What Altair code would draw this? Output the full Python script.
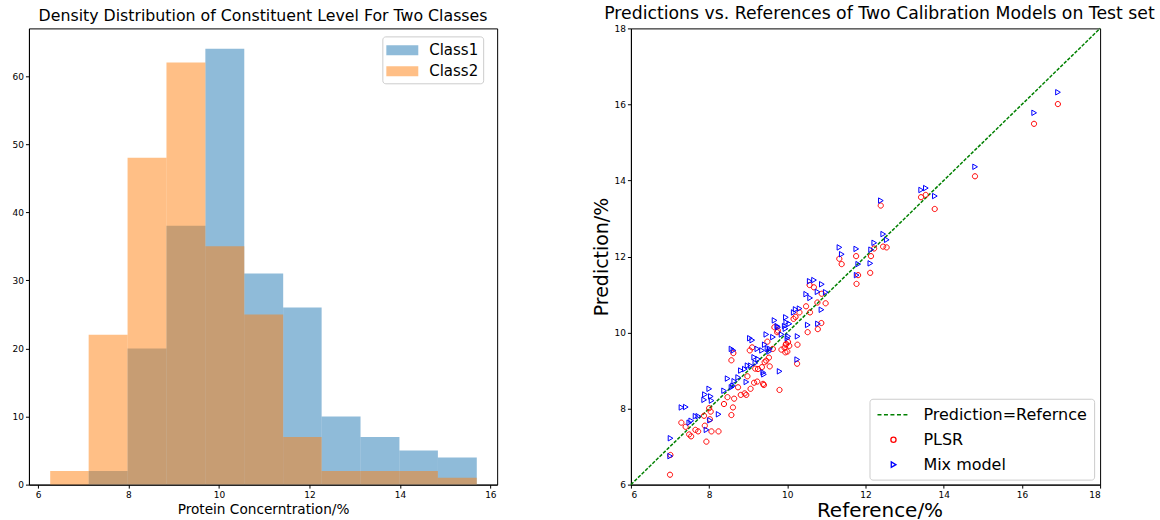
import altair as alt
import pandas as pd

# ---------------- left panel: histogram counts ----------------
bin_edges = [6.27, 7.12, 7.98, 8.84, 9.70, 10.56, 11.42, 12.27, 13.13, 13.99, 14.84, 15.70]
class1_counts = [0, 2, 20, 38, 64, 31, 26, 10, 7, 5, 4]
class2_counts = [2, 22, 48, 62, 35, 25, 7, 2, 2, 2, 1]

# ---------------- right panel: test-set predictions ----------------
reference = [7.00, 7.01, 7.29, 7.40, 7.49, 7.54, 7.65, 7.72, 7.87, 7.89, 7.93, 8.00, 8.04, 8.02,
             8.06, 8.24, 8.38, 8.47, 8.57, 8.61, 8.64, 8.74, 8.57, 8.62, 8.81, 8.91, 8.95, 8.98,
             9.04, 9.06, 9.10, 9.15, 9.18, 9.23, 9.25, 9.35, 9.38, 9.40, 9.42, 9.46, 9.49, 9.53,
             9.55, 9.63, 9.67, 9.74, 9.76, 9.80, 9.85, 9.93, 9.95, 9.96, 9.97, 10.00, 10.02, 10.05,
             10.16, 10.21, 10.31, 10.25, 10.26,
             16.92, 16.31, 14.80, 13.42, 13.54, 13.77, 12.39, 12.45, 12.54, 12.22, 11.33, 11.76,
             12.14, 11.39, 11.81, 12.12, 11.77, 10.57, 10.68, 10.88, 10.77, 10.78, 10.98, 10.48,
             10.58, 10.87, 10.52]
plsr_pred = [6.26, 6.78, 7.63, 7.52, 7.32, 7.27, 7.44, 7.40, 7.81, 7.55, 7.13, 8.01, 7.92, 7.72,
             7.40, 7.40, 8.12, 8.30, 7.83, 8.03, 8.26, 8.56, 9.27, 9.46, 8.36, 8.40, 8.36, 8.85,
             9.53, 8.52, 9.61, 8.68, 9.05, 8.71, 9.04, 9.09, 8.65, 8.62, 9.22, 9.26, 9.76, 9.34,
             9.11, 9.57, 10.14, 10.01, 10.05, 8.49, 9.55, 9.60, 9.48, 9.68, 9.70, 9.50, 9.75, 9.65,
             10.36, 10.41, 10.53, 9.18, 9.68,
             16.01, 15.49, 14.11, 13.56, 13.62, 13.25, 13.34, 12.26, 12.24, 12.21, 11.94, 12.01,
             12.01, 11.80, 11.51, 11.57, 11.28, 11.25, 11.19, 11.02, 10.79, 10.09, 10.77, 10.69,
             10.53, 10.25, 10.01]
mix_pred = [6.75, 7.22, 8.03, 8.04, 7.63, 7.68, 7.80, 7.80, 8.23, 8.37, 7.44, 8.52, 8.32, 7.69,
            8.21, 7.85, 8.47, 8.79, 8.56, 8.60, 8.72, 8.82, 9.57, 9.53, 9.00, 9.04, 8.70, 9.13,
            9.85, 9.13, 9.80, 9.35, 9.20, 9.57, 9.30, 9.53, 8.95, 8.90, 9.68, 9.95, 9.57, 9.50,
            9.57, 9.88, 10.32, 10.17, 10.14, 8.98, 9.95, 10.17, 10.10, 10.40, 10.27, 9.85, 9.90, 10.23,
            10.53, 10.61, 10.63, 9.29, 9.90,
            16.32, 15.78, 14.36, 13.75, 13.80, 13.59, 13.47, 12.59, 12.44, 12.36, 12.24, 12.20,
            12.18, 12.06, 11.80, 11.82, 11.51, 11.35, 11.38, 11.27, 11.07, 10.23, 11.06, 11.01,
            10.91, 10.60, 10.20]

series_names = ["Prediction=Refernce", "PLSR", "Mix model"]
series_colors = ["green", "red", "blue"]
identity_line = [6, 18]

FONT = "DejaVu Sans"

# ---------- histogram table ----------
hist_rows = []
for name, counts in (("Class1", class1_counts), ("Class2", class2_counts)):
    for i, c in enumerate(counts):
        if c > 0:
            hist_rows.append({"cls": name, "x0": bin_edges[i], "x1": bin_edges[i + 1],
                              "count": c, "base": 0})
hist_df = pd.DataFrame(hist_rows)

rect_path = "M-1.6,-0.5H1.6V0.5H-1.6Z"

left = alt.Chart(hist_df).mark_rect(opacity=0.5, strokeWidth=0).encode(
    x=alt.X("x0:Q", scale=alt.Scale(domain=[5.8, 16.15], nice=False, zero=False),
            axis=alt.Axis(values=[6, 8, 10, 12, 14, 16], title="Protein Concerntration/%",
                          titleFontSize=13.7, titlePadding=3)),
    x2="x1:Q",
    y=alt.Y("count:Q", scale=alt.Scale(domain=[0, 67], nice=False),
            axis=alt.Axis(values=[0, 10, 20, 30, 40, 50, 60], title=None)),
    y2="base:Q",
    color=alt.Color("cls:N", scale=alt.Scale(domain=["Class1", "Class2"],
                                             range=["#1f77b4", "#ff7f0e"]),
                    legend=alt.Legend(title=None, orient="none", legendX=354, legendY=8,
                                      symbolType=rect_path, symbolSize=400, symbolOffset=6,
                                      symbolStrokeWidth=0, symbolOpacity=0.5,
                                      labelFontSize=15, labelOffset=17, rowPadding=3,
                                      padding=4, strokeColor="#cccccc", cornerRadius=3,
                                      fillColor="white", labelLimit=300)),
).properties(width=469, height=457,
             title=alt.Title("Density Distribution of Constituent Level For Two Classes",
                             fontSize=15.8, offset=4, frame="group"))

# ---------- scatter tables ----------
pts_rows = []
for r, p in zip(reference, plsr_pred):
    pts_rows.append({"ref": r, "pred": p, "series": "PLSR"})
for r, m in zip(reference, mix_pred):
    pts_rows.append({"ref": r, "pred": m, "series": "Mix model"})
pts_df = pd.DataFrame(pts_rows)
line_df = pd.DataFrame({"ref": identity_line, "pred": identity_line,
                        "series": [series_names[0]] * 2})

dash_path = "M-2,0H-1.5M-1.19,0H-0.69M-0.38,0H0.12M0.44,0H0.94M1.25,0H1.75"
circle_path = "M-0.325,0A0.325,0.325 0 1,0 0.325,0A0.325,0.325 0 1,0 -0.325,0Z"
tri_path = "M-0.275,-0.34L0.31,0L-0.275,0.34Z"

xs = alt.Scale(domain=[6, 18], nice=False, zero=False)
ys = alt.Scale(domain=[6, 18], nice=False, zero=False)
ticks = [6, 8, 10, 12, 14, 16, 18]
color_scale = alt.Scale(domain=series_names, range=series_colors)
shape_scale = alt.Scale(domain=series_names, range=[dash_path, circle_path, tri_path])

right_legend = alt.Legend(title=None, orient="none", legendX=239, legendY=371,
                          symbolSize=256, symbolOffset=8, symbolStrokeWidth=1.3,
                          labelFontSize=16, labelOffset=21, rowPadding=8, padding=7,
                          strokeColor="#cccccc", cornerRadius=3, fillColor="white",
                          labelLimit=300)

line_layer = alt.Chart(line_df).mark_line(strokeDash=[3.5, 1.5], strokeWidth=1.5).encode(
    x=alt.X("ref:Q", scale=xs, axis=alt.Axis(values=ticks, title="Reference/%",
                                             titleFontSize=20, titlePadding=1, titleX=249)),
    y=alt.Y("pred:Q", scale=ys, axis=alt.Axis(values=ticks, title="Prediction/%",
                                              titleFontSize=19, titlePadding=3)),
    color=alt.Color("series:N", scale=color_scale, legend=right_legend),
)
pts_layer = alt.Chart(pts_df).mark_point(filled=False, size=256, strokeWidth=1,
                                         opacity=1).encode(
    x=alt.X("ref:Q", scale=xs),
    y=alt.Y("pred:Q", scale=ys),
    color=alt.Color("series:N", scale=color_scale, legend=right_legend),
    shape=alt.Shape("series:N", scale=shape_scale, legend=right_legend),
)
right = alt.layer(line_layer, pts_layer).properties(
    width=470, height=457,
    title=alt.Title("Predictions vs. References of Two Calibration Models on Test set",
                    fontSize=17.3, offset=2, dx=14, frame="group"))

chart = alt.hconcat(left, right, spacing=134, bounds="flush").resolve_scale(
    color="independent", shape="independent"
).resolve_legend(color="independent", shape="independent").properties(
    padding={"left": 11, "top": 4, "right": 5, "bottom": 0}
).configure_view(stroke="black", strokeWidth=1).configure_axis(
    labelFont=FONT, titleFont=FONT, labelFontSize=9, labelColor="black",
    titleFontWeight="normal", titleColor="black",
    domainColor="black", tickColor="black", tickSize=3.5, grid=False,
    labelPadding=2,
).configure_title(font=FONT, fontWeight="normal", color="black", anchor="middle"
).configure_legend(labelFont=FONT, labelColor="black")

chart.save("out.html", embed_options={"renderer": "svg", "actions": False})
